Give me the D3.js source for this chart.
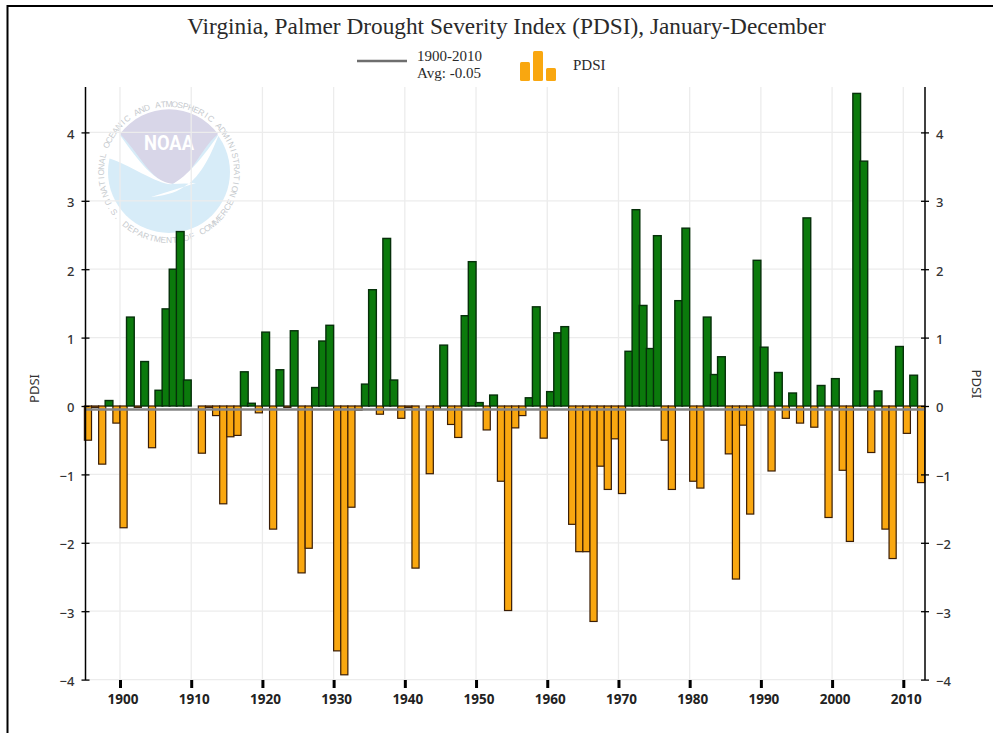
<!DOCTYPE html>
<html>
<head>
<meta charset="utf-8">
<title>Virginia PDSI</title>
<script src="https://d3js.org/d3.v7.min.js"></script>
<style>
    html, body { margin: 0; padding: 0; background: #fff; }
    svg { display: block; }
    .grid line { stroke: #ececec; stroke-width: 1.3; }
    .y-axis text { font-family: "Noto Sans", sans-serif; font-size: 13px; font-weight: 500; fill: #333; }
    .x-axis text { font-family: "Noto Sans", sans-serif; font-size: 13.5px; font-weight: 700; fill: #222; }
    .serif { font-family: "Liberation Serif", serif; fill: #2a2a2a; }
    .axis-title { font-family: "Noto Sans", sans-serif; font-size: 13px; fill: #333; }
</style>
</head>
<body>
<div id="chart"></div>
<script>
// chart values
const years = d3.range(1895, 2013);
const pdsi = [
    -0.5, -0.02, -0.85, 0.08, -0.25,
    -1.78, 1.3, -0.02, 0.65, -0.61, 0.23, 1.42, 2.0, 2.55, 0.38,
    0, -0.69, -0.02, -0.14, -1.43, -0.45, -0.43, 0.5, 0.04, -0.1,
    1.08, -1.8, 0.53, -0.02, 1.1, -2.44, -2.08, 0.27, 0.95, 1.18,
    -3.58, -3.93, -1.48, -0.06, 0.32, 1.7, -0.12, 2.45, 0.38, -0.18,
    -0.02, -2.37, 0, -0.99, -0.05, 0.89, -0.27, -0.46, 1.32, 2.11,
    0.05, -0.35, 0.16, -1.1, -2.99, -0.32, -0.14, 0.12, 1.45, -0.47,
    0.21, 1.07, 1.16, -1.73, -2.13, -2.13, -3.15, -0.88, -1.22, -0.48,
    -1.28, 0.8, 2.87, 1.47, 0.84, 2.49, -0.5, -1.22, 1.54, 2.6,
    -1.1, -1.2, 1.3, 0.46, 0.72, -0.7, -2.53, -0.28, -1.58, 2.13,
    0.86, -0.95, 0.49, -0.18, 0.19, -0.25, 2.75, -0.31, 0.3, -1.63,
    0.4, -0.94, -1.98, 4.57, 3.58, -0.68, 0.22, -1.8, -2.23, 0.87,
    -0.4, 0.45, -1.12
];
const average = -0.05;
const xTickValues = [1900, 1910, 1920, 1930, 1940, 1950, 1960, 1970, 1980, 1990, 2000, 2010];
const yTickValues = [-4, -3, -2, -1, 0, 1, 2, 3, 4];

const svg = d3.select("#chart").append("svg")
    .attr("width", 993)
    .attr("height", 733);

// frame around the picture
svg.append("path")
    .attr("d", "M7.5,733V6H993")
    .attr("fill", "none")
    .attr("stroke", "#000")
    .attr("stroke-width", 2);

const x = d3.scaleLinear().domain([1900, 2010]).range([120, 903.3]);
const y = d3.scaleLinear().domain([-4, 4]).range([679.6, 132.4]);
const plot = {left: 85.5, right: 925, top: 87, bottom: 680};

// NOAA seal, faded behind the grid and bars
const logo = svg.append("g").attr("transform", "translate(169,172)");
logo.append("circle").attr("r", 61).attr("fill", "#d7ecf8");
logo.append("path")
    .attr("d", "M-49,-38 A61,61 0 0 1 49,-38 C30,-22 22,8 2,12 C-18,10 -32,-22 -49,-38 Z")
    .attr("fill", "#d8d6e8");
logo.append("path")
    .attr("d", "M-50,-38 C-36,-20 -18,10 4,12 L27,11 L-18,25 C0,23 10,19 16,14 C32,6 44,-22 50,-38 C40,-24 24,0 4,12 C-10,14 -40,-8 -61,-14 L-61,-30 Z")
    .attr("fill", "#fff");
logo.append("text")
    .attr("x", 0).attr("y", -22)
    .attr("text-anchor", "middle")
    .attr("font-family", "Roboto, sans-serif")
    .attr("font-size", 20)
    .attr("font-weight", 700)
    .attr("textLength", 50)
    .attr("lengthAdjust", "spacingAndGlyphs")
    .attr("fill", "#fff")
    .text("NOAA");

// ring lettering, one letter at a time round the seal
function ringText(str, radius, midAngle, spacing, flip) {
    str.split("").forEach((ch, i) => {
        const a = midAngle + (i - (str.length - 1) / 2) * spacing * (flip ? -1 : 1);
        const rad = a * Math.PI / 180;
        logo.append("text")
            .attr("transform", "translate(" + radius * Math.sin(rad) + "," + -radius * Math.cos(rad) + ") rotate(" + (flip ? a + 180 : a) + ")")
            .attr("text-anchor", "middle")
            .attr("font-family", "Liberation Sans, sans-serif")
            .attr("font-size", 8.4)
            .attr("fill", "#c6cace")
            .text(ch);
    });
}
ringText("NATIONAL OCEANIC AND ATMOSPHERIC ADMINISTRATION", 65, 0, 4.75, false);
ringText("U.S. DEPARTMENT OF COMMERCE", 71, 180, 4.9, true);

// gridlines
const grid = svg.append("g").attr("class", "grid");
grid.selectAll(".gx").data(xTickValues).join("line")
    .attr("x1", d => x(d)).attr("x2", d => x(d))
    .attr("y1", plot.top).attr("y2", plot.bottom);
grid.selectAll(".gy").data(yTickValues).join("line")
    .attr("x1", plot.left).attr("x2", plot.right)
    .attr("y1", d => y(d)).attr("y2", d => y(d));

// bars: each year fills the slot from its tick to the next one
const step = x(1901) - x(1900);
const bars = years.map((d, i) => ({year: d, value: pdsi[i]}));

svg.append("g").selectAll("rect")
    .data(bars.filter(d => d.value < 0))
    .join("rect")
    .attr("x", d => x(d.year))
    .attr("width", step)
    .attr("y", y(0))
    .attr("height", d => y(d.value) - y(0))
    .attr("fill", "#f9a710")
    .attr("stroke", "#3a1d05")
    .attr("stroke-width", 1.2);

svg.append("g").selectAll("rect")
    .data(bars.filter(d => d.value > 0))
    .join("rect")
    .attr("x", d => x(d.year) - 0.6)
    .attr("width", step + 0.6)
    .attr("y", d => y(d.value))
    .attr("height", d => y(0) - y(d.value))
    .attr("fill", "#0b7a0c")
    .attr("stroke", "#06300a")
    .attr("stroke-width", 1.4);

// 1900-2010 average
svg.append("line")
    .attr("x1", plot.left).attr("x2", plot.right)
    .attr("y1", y(average)).attr("y2", y(average))
    .attr("stroke", "#858585")
    .attr("stroke-width", 2.5);

// axes
const yAxisLeft = d3.axisLeft(y).tickValues(yTickValues).tickFormat(d3.format("d")).tickSizeOuter(0).tickSizeInner(4);
const yAxisRight = d3.axisRight(y).tickValues(yTickValues).tickFormat(d3.format("d")).tickSizeOuter(0).tickSizeInner(4);

[[plot.left, yAxisLeft, -1], [plot.right, yAxisRight, 1]].forEach(a => {
    const g = svg.append("g")
        .attr("class", "y-axis")
        .attr("transform", "translate(" + a[0] + ",0)")
        .call(a[1]);
    g.select(".domain").remove();
    g.append("line")
        .attr("y1", plot.top).attr("y2", plot.bottom)
        .attr("stroke", "#000").attr("stroke-width", 1.5);
    g.selectAll(".tick line")
        .attr("x1", -4).attr("x2", 4)
        .attr("stroke", "#000").attr("stroke-width", 1.3);
    g.selectAll(".tick text").attr("x", a[2] * 11).attr("dy", "0.45em");
});

const xAxis = d3.axisBottom(x).tickValues(xTickValues).tickFormat(d3.format("d")).tickSizeOuter(0).tickSizeInner(8).tickPadding(6);
const xg = svg.append("g")
    .attr("class", "x-axis")
    .attr("transform", "translate(0,680)")
    .call(xAxis);
xg.select(".domain").remove();
xg.selectAll(".tick line").attr("stroke", "#000").attr("stroke-width", 3);
xg.selectAll(".tick text").attr("dx", 2.5);

// title and axis labels
svg.append("text")
    .attr("class", "serif")
    .attr("x", 506.5).attr("y", 34)
    .attr("text-anchor", "middle")
    .attr("font-size", 23.3)
    .text("Virginia, Palmer Drought Severity Index (PDSI), January-December");

svg.append("text").attr("class", "axis-title")
    .attr("transform", "translate(38.5,388.5) rotate(-90)")
    .attr("text-anchor", "middle")
    .text("PDSI");
svg.append("text").attr("class", "axis-title")
    .attr("transform", "translate(972,384) rotate(90)")
    .attr("text-anchor", "middle")
    .text("PDSI");

// legend
svg.append("line")
    .attr("x1", 357).attr("x2", 407)
    .attr("y1", 61).attr("y2", 61)
    .attr("stroke", "#6e6e6e").attr("stroke-width", 2.5);
svg.append("text").attr("class", "serif")
    .attr("x", 417).attr("y", 61).attr("font-size", 15).text("1900-2010");
svg.append("text").attr("class", "serif")
    .attr("x", 417).attr("y", 77.5).attr("font-size", 15).text("Avg: -0.05");
svg.append("text").attr("class", "serif")
    .attr("x", 573).attr("y", 69.5).attr("font-size", 15).text("PDSI");

const legendBars = [[520, 62], [533, 51], [546, 68]];
svg.append("g").selectAll("rect")
    .data(legendBars)
    .join("rect")
    .attr("x", d => d[0])
    .attr("y", d => d[1])
    .attr("width", 10)
    .attr("height", d => 81 - d[1])
    .attr("rx", 1.5)
    .attr("fill", "#f9a710");
</script>
</body>
</html>
